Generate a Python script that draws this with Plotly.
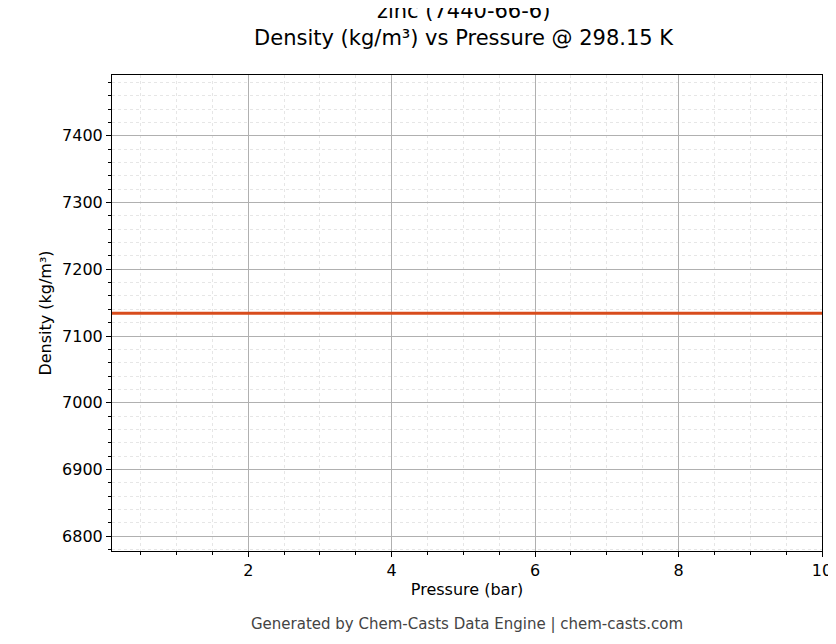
import plotly.graph_objects as go

# Data
pressure_bar = [0.1, 1.0, 2.0, 3.0, 4.0, 5.0, 6.0, 7.0, 8.0, 9.0, 10.0]
density_kg_m3 = [7134, 7134, 7134, 7134, 7134, 7134, 7134, 7134, 7134, 7134, 7134]

fig = go.Figure()
fig.add_trace(go.Scatter(
    x=pressure_bar, y=density_kg_m3, mode="lines",
    line=dict(color="#d84c1c", width=3), showlegend=False,
))

axis_common = dict(
    showline=True, linecolor="black", linewidth=1, mirror=True,
    ticks="outside", ticklen=5, tickcolor="black",
    showgrid=True, gridcolor="#b0b0b0", gridwidth=0.8,
    zeroline=False, tickfont=dict(size=16, color="black"),
    title_font=dict(size=16, color="black"),
)

fig.update_xaxes(
    range=[0.1, 10], tickvals=[2, 4, 6, 8, 10], title_text="Pressure (bar)",
    minor=dict(dtick=0.5, tick0=0, ticks="outside", ticklen=3, tickcolor="black",
               showgrid=True, gridcolor="#e6e6e6", griddash="dot", gridwidth=0.6),
    title_standoff=4, **axis_common,
)
fig.update_yaxes(
    range=[6778, 7491], dtick=100, title_text="Density (kg/m³)",
    minor=dict(dtick=20, ticks="outside", ticklen=3, tickcolor="black",
               showgrid=True, gridcolor="#e6e6e6", griddash="dot", gridwidth=0.6),
    title_standoff=6, **axis_common,
)

fig.update_layout(
    width=836, height=644,
    margin=dict(l=104, r=20, t=67, b=101),
    paper_bgcolor="white", plot_bgcolor="white",
    font=dict(family="DejaVu Sans", color="black"),
    title=dict(text="zinc (7440-66-6)<br>Density (kg/m³) vs Pressure @ 298.15 K",
               x=0.545, xanchor="center", y=0.985, yanchor="top",
               font=dict(size=21, color="black")),
    annotations=[dict(
        text="Generated by Chem-Casts Data Engine | chem-casts.com",
        xref="paper", yref="paper", x=0.5, y=-0.13, xanchor="center", yanchor="top",
        showarrow=False, font=dict(size=15, color="#444444"),
    )],
)

fig.write_html("out.html")
